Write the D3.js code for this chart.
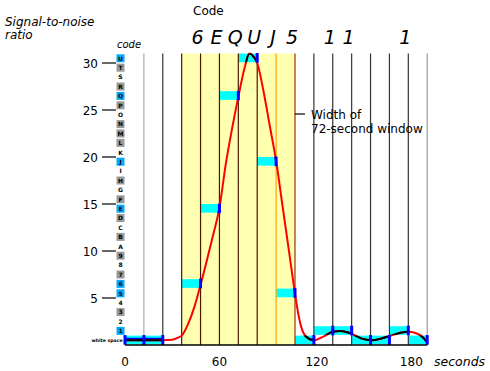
<!DOCTYPE html>
<html><head><meta charset="utf-8">
<script src="https://cdn.jsdelivr.net/npm/d3@7/dist/d3.min.js"></script>
<style>
body{margin:0;background:#fff}
svg{display:block}
text{font-family:"DejaVu Sans",Verdana,sans-serif;fill:#000}
</style>
</head><body>
<svg id="chart" width="490" height="371"></svg>
<script>
// ---- data ----
const binStarts = [0, 12, 36, 48, 60, 72, 84, 96, 108, 120, 132, 144, 156, 168, 180];
const binValues = [0, 0, 6, 14, 26, 30, 19, 5, 0, 1, 1, 0, 0, 1, 0];
const binSeconds = 12;
const codeLabels = ["6", "E", "Q", "U", "J", "5", "1", "1", "1"];
const codeTimes = [48, 60, 72, 84, 96, 108, 132, 144, 180];
const curveTimes = [0, 12, 24, 30, 34, 36, 40, 44, 48, 52, 56, 60, 64, 68, 72, 76, 79, 82, 84, 88, 92, 96, 100, 104, 108, 110, 112, 115, 120, 126, 132, 137, 144, 150, 157, 163, 169, 175, 180, 184, 188, 192];
const curveValues = [0.5, 0.5, 0.5, 0.55, 0.8, 1.0, 2.2, 4.0, 6.4, 9.0, 11.7, 14.6, 19.2, 23.0, 26.4, 29.5, 31.0, 30.6, 30.0, 27.0, 23.3, 19.6, 14.9, 10.2, 5.5, 3.4, 1.9, 0.9, 0.5, 0.9, 1.4, 1.5, 1.2, 0.7, 0.5, 0.7, 1.0, 1.3, 1.4, 1.3, 1.0, 0.3];
const yTicks = [5, 10, 15, 20, 25, 30];
const xTicks = [0, 60, 120, 180];
const codeChars = ["1","2","3","4","5","6","7","8","9","A","B","C","D","E","F","G","H","I","J","K","L","M","N","O","P","Q","R","S","T","U"];
const highlightChars = ["1","5","6","E","J","Q","U"];
const shadedChars = ["3","7","9","B","D","F","H","L","M","N","P","R","T"];
const windowStart = 36, windowEnd = 108, markTime = 96;
const gridTimes = [12, 24, 36, 48, 60, 72, 84, 96, 108, 120, 132, 144, 156, 168, 180, 192];

// ---- scales ----
const x = d3.scaleLinear().domain([0, 192]).range([125, 427.2]);
const y = d3.scaleLinear().domain([0, 31]).range([345, 53.6]);
const svg = d3.select("#chart");

// yellow window
svg.append("rect")
  .attr("x", x(windowStart)).attr("y", y(31))
  .attr("width", x(windowEnd) - x(windowStart)).attr("height", y(0) - y(31))
  .attr("fill", "#ffffb0");

const bins = binStarts.map((s, i) => ({s, e: s + binSeconds, v: binValues[i]}));
const rowTop = v => y(v + 1);
const rowBot = v => y(v + 0.08);

// cyan bars
svg.append("g").selectAll("rect").data(bins).join("rect")
  .attr("x", d => x(d.s)).attr("width", d => x(d.e) - x(d.s))
  .attr("y", d => rowTop(d.v)).attr("height", d => rowBot(d.v) - rowTop(d.v))
  .attr("fill", "#00ffff");

// grid lines
function gridColor(t) {
  if (t === 12) return "#aaaaaa";
  if (t === 192) return "#999999";
  if (t === markTime) return "#ffa500";
  if (t === windowEnd) return "#993300";
  if (t >= windowStart && t < windowEnd) return "#4a1800";
  return "#333333";
}
svg.append("g").selectAll("line").data(gridTimes).join("line")
  .attr("x1", d => x(d)).attr("x2", d => x(d))
  .attr("y1", y(31)).attr("y2", y(0))
  .attr("stroke", d => gridColor(d)).attr("stroke-width", 1.2);

// curve
const pts = curveTimes.map((t, i) => [t, curveValues[i]]);
const line = d3.line().x(d => x(d[0])).y(d => y(d[1])).curve(d3.curveMonotoneX);
const clip = svg.append("clipPath").attr("id", "barclip");
clip.selectAll("rect").data(bins).join("rect")
  .attr("x", d => x(d.s)).attr("width", d => x(d.e) - x(d.s))
  .attr("y", d => rowTop(d.v)).attr("height", d => rowBot(d.v) - rowTop(d.v));

// blue underline in first two bins
svg.append("path").datum(pts.filter(p => p[0] <= 24))
  .attr("d", line).attr("fill", "none").attr("stroke", "#0000ff").attr("stroke-width", 2.5)
  .attr("transform", "translate(0,-1.2)");

svg.append("path").datum(pts).attr("d", line)
  .attr("fill", "none").attr("stroke", "#ff0000").attr("stroke-width", 2);
svg.append("path").datum(pts).attr("d", line)
  .attr("clip-path", "url(#barclip)")
  .attr("fill", "none").attr("stroke", "#000000").attr("stroke-width", 2);

// blue end markers
const markers = bins.map(d => ({t: d.e, v: d.v}));
markers.unshift({t: bins[0].s, v: bins[0].v});
svg.append("g").selectAll("rect").data(markers).join("rect")
  .attr("x", d => x(d.t) - 1.5).attr("width", 3)
  .attr("y", d => rowTop(d.v) - 0.5).attr("height", d => rowBot(d.v) - rowTop(d.v) + 1)
  .attr("fill", "#0000ff");

// bottom line
svg.append("line").attr("x1", x(0)).attr("x2", x(192)).attr("y1", y(0)).attr("y2", y(0))
  .attr("stroke", "#000").attr("stroke-width", 1.5);

// y axis ticks
const yg = svg.append("g");
yg.selectAll("line").data(yTicks).join("line")
  .attr("x1", 102).attr("x2", 116).attr("y1", d => y(d)).attr("y2", d => y(d))
  .attr("stroke", "#000").attr("stroke-width", 1.2);
yg.selectAll("text").data(yTicks).join("text")
  .attr("x", 98).attr("y", d => y(d) + 4.5).attr("text-anchor", "end")
  .attr("font-size", 12).text(d => d);

// code column
const cg = svg.append("g");
const codeItems = codeChars.map((c, i) => ({c, v: i + 1}));
cg.selectAll("rect").data(codeItems.filter(d => highlightChars.includes(d.c) || shadedChars.includes(d.c))).join("rect")
  .attr("x", 116.5).attr("width", 8)
  .attr("y", d => y(d.v + 0.5) - 4).attr("height", 8)
  .attr("fill", d => highlightChars.includes(d.c) ? "#00aaff" : "#999999");
cg.selectAll("text").data(codeItems).join("text")
  .attr("x", 120.5).attr("y", d => y(d.v + 0.5) + 2.2)
  .attr("text-anchor", "middle").attr("font-size", 6).attr("font-weight", "bold")
  .text(d => d.c);
svg.append("text").attr("x", 122.5).attr("y", y(0.5) + 1.6)
  .attr("text-anchor", "end").attr("font-size", 4.6).attr("font-weight", "bold")
  .text("white space");
svg.append("text").attr("x", 117).attr("y", 47.5)
  .attr("font-size", 10).attr("font-style", "italic").text("code");

// x axis labels
svg.append("g").selectAll("text").data(xTicks).join("text")
  .attr("x", d => x(d) + (d >= 120 ? 3 : 0)).attr("y", 366)
  .attr("text-anchor", "middle").attr("font-size", 12).text(d => d);
svg.append("text").attr("x", 434).attr("y", 366)
  .attr("font-size", 12.5).attr("font-style", "italic").text("seconds");

// y title
svg.append("text").attr("x", 5).attr("y", 26).attr("font-size", 12).attr("font-style", "italic").text("Signal-to-noise");
svg.append("text").attr("x", 5).attr("y", 39).attr("font-size", 12).attr("font-style", "italic").text("ratio");

// top code labels
svg.append("text").attr("x", 193).attr("y", 15).attr("font-size", 12).text("Code");
svg.append("g").selectAll("text").data(codeLabels).join("text")
  .attr("x", (d, i) => x(codeTimes[i]) - 3).attr("y", 43.5)
  .attr("text-anchor", "middle").attr("font-size", 19).attr("font-style", "italic")
  .text(d => d);

// annotation
svg.append("line").attr("x1", 295).attr("x2", 305).attr("y1", 114).attr("y2", 114)
  .attr("stroke", "#000").attr("stroke-width", 1.2);
svg.append("text").attr("x", 311).attr("y", 119).attr("font-size", 12).text("Width of");
svg.append("text").attr("x", 311).attr("y", 132.5).attr("font-size", 12).text("72-second window");
</script>
</body></html>
